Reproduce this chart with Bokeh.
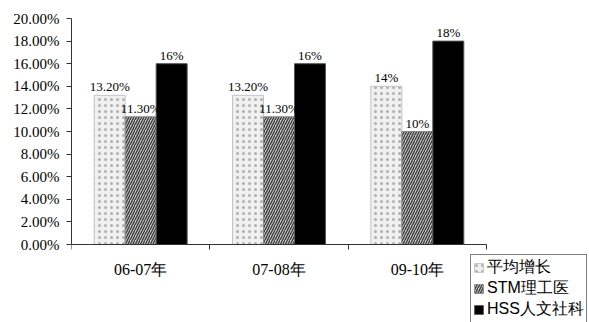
from bokeh.plotting import figure
from bokeh.models import (ColumnDataSource, FixedTicker, PrintfTickFormatter, LabelSet,
                          Legend, LegendItem, LinearAxis)
from bokeh.transform import dodge
from bokeh.embed import file_html
from bokeh.resources import INLINE

categories = ["06-07年", "07-08年", "09-10年"]
series_names = ["平均增长", "STM理工医", "HSS人文社科"]
avg = [13.2, 13.2, 14.0]
stm = [11.3, 11.3, 10.0]
hss = [16.0, 16.0, 18.0]
avg_labels = ["13.20%", "13.20%", "14%"]
stm_labels = ["11.30%", "11.30%", "10%"]
hss_labels = ["16%", "16%", "18%"]
y_ticks = [0, 2, 4, 6, 8, 10, 12, 14, 16, 18, 20]

n = len(categories)
pos = [i + 0.5 for i in range(n)]
src = ColumnDataSource(dict(x=pos, avg=avg, stm=stm, hss=hss,
                            la=avg_labels, ls=stm_labels, lh=hss_labels))

# frame spans x 71..589 and y 18..322 so the legend (outside the axes) is not clipped
cat_px = 138.33
x_end = (589 - 71) / cat_px
unit_px = 226 / 20.0
y_start = -(322 - 244) / unit_px

p = figure(width=589, height=322, x_range=(0, x_end), y_range=(y_start, 20),
           output_backend="svg", toolbar_location=None, x_axis_location=None,
           min_border_left=71, min_border_right=0, min_border_top=18, min_border_bottom=0)
p.outline_line_color = None
p.xgrid.grid_line_color = None
p.ygrid.grid_line_color = None
p.background_fill_color = "white"

w = 0.224
r1 = p.vbar(x=dodge("x", -w, range=p.x_range), top="avg", width=w, source=src,
            fill_color="#f0f0f0", line_color="#c4c4c4", line_width=1,
            hatch_pattern="dot", hatch_color="#b0b0b0", hatch_scale=6, hatch_weight=1)
r2 = p.vbar(x=dodge("x", 0, range=p.x_range), top="stm", width=w, source=src,
            fill_color="#cfcfcf", line_color="#888888", line_width=1,
            hatch_pattern="right_diagonal_line", hatch_color="#3c3c3c", hatch_scale=5, hatch_weight=1.4)
r3 = p.vbar(x=dodge("x", w, range=p.x_range), top="hss", width=w, source=src,
            fill_color="black", line_color="#555555", line_width=1)

lab_font = "Liberation Serif"
for col, lcol, off in (("avg", "la", -w), ("stm", "ls", 0), ("hss", "lh", w)):
    ls = LabelSet(x=dodge("x", off, range=p.x_range), y=col, text=lcol, source=src,
                  text_align="center", text_baseline="bottom", y_offset=1,
                  text_font=lab_font, text_font_size="13px", text_color="black")
    p.add_layout(ls)

p.yaxis.bounds = (0, 20)
p.yaxis.ticker = FixedTicker(ticks=y_ticks)
p.yaxis.formatter = PrintfTickFormatter(format="%.2f%%")
p.yaxis.major_label_text_font = lab_font
p.yaxis.major_label_text_font_size = "15px"
p.yaxis.major_label_text_color = "black"
p.yaxis.major_tick_in = 0
p.yaxis.major_tick_out = 5
p.yaxis.minor_tick_line_color = None
p.yaxis.axis_line_color = "#333333"
p.yaxis.major_tick_line_color = "#333333"
p.yaxis.major_label_standoff = 7

xa = LinearAxis(fixed_location=0, bounds=(0, n))
xa.ticker = FixedTicker(ticks=pos, minor_ticks=list(range(n + 1)))
xa.major_label_overrides = {v: c for v, c in zip(pos, categories)}
xa.major_tick_line_color = None
xa.minor_tick_in = 0
xa.minor_tick_out = 5
xa.minor_tick_line_color = "#333333"
xa.axis_line_color = "#333333"
xa.major_label_text_font = lab_font
xa.major_label_text_font_size = "16px"
xa.major_label_text_color = "black"
xa.major_label_standoff = 10
p.add_layout(xa, "below")

legend = Legend(items=[LegendItem(label=series_names[0], renderers=[r1]),
                       LegendItem(label=series_names[1], renderers=[r2]),
                       LegendItem(label=series_names[2], renderers=[r3])],
                location=(399, -1), orientation="vertical",
                border_line_color="black", border_line_width=1,
                background_fill_color="white", background_fill_alpha=1,
                padding=2, spacing=0, margin=0,
                glyph_width=11, glyph_height=11, label_standoff=3, label_height=19,
                label_text_font="Liberation Sans", label_text_font_size="16px",
                label_text_color="black")
p.add_layout(legend, "center")

open("out.html", "w").write(file_html(p, INLINE))
